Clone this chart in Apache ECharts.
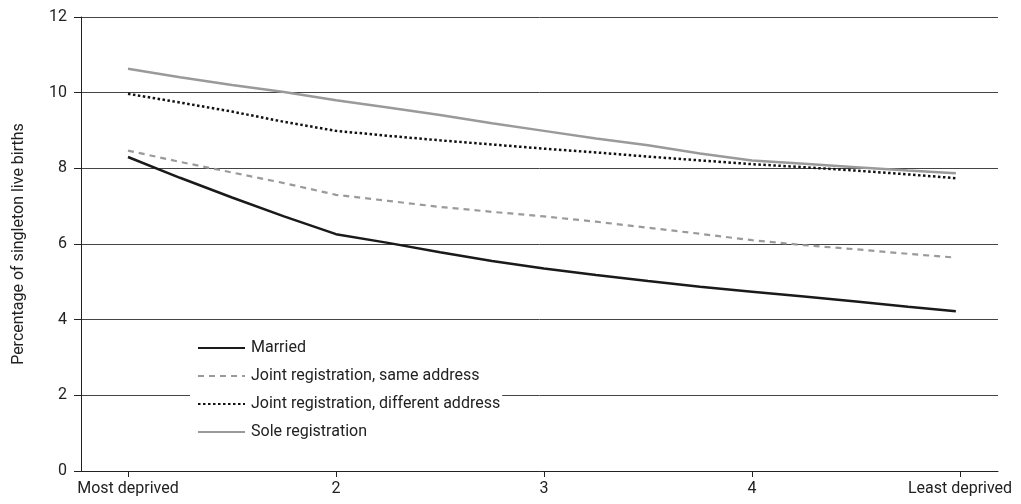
<!DOCTYPE html>
<html>
<head>
<meta charset="utf-8">
<script src="https://cdn.jsdelivr.net/npm/echarts@6/dist/echarts.min.js"></script>
<style>
html,body{margin:0;padding:0;background:#fff;}
#chart{width:1021px;height:504px;}
</style>
</head>
<body>
<div id="chart"></div>
<script>
// Deprivation position (1 = most deprived, 5 = least deprived)
const xPos = [1, 1.25, 1.5, 1.75, 2, 2.25, 2.5, 2.75, 3, 3.25, 3.5, 3.75, 4, 4.25, 4.5, 4.75, 4.98];
const tickValues = [1, 2, 3, 4, 5];
const tickLabels = ['Most deprived', '2', '3', '4', 'Least deprived'];
const yTicks = [0, 2, 4, 6, 8, 10, 12];

const married      = [8.30, 7.75, 7.23, 6.73, 6.26, 6.03, 5.78, 5.55, 5.35, 5.18, 5.02, 4.87, 4.74, 4.61, 4.48, 4.34, 4.22];
const jointSame    = [8.47, 8.17, 7.89, 7.61, 7.30, 7.14, 6.98, 6.85, 6.73, 6.59, 6.43, 6.27, 6.10, 5.97, 5.86, 5.74, 5.64];
const jointDiff    = [9.97, 9.74, 9.50, 9.23, 8.99, 8.86, 8.74, 8.63, 8.52, 8.42, 8.31, 8.21, 8.11, 8.03, 7.94, 7.84, 7.74];
const sole         = [10.63, 10.41, 10.20, 10.02, 9.80, 9.61, 9.41, 9.19, 8.99, 8.79, 8.61, 8.39, 8.21, 8.12, 8.03, 7.94, 7.87];

const seriesNames = ['Married', 'Joint registration, same address', 'Joint registration, different address', 'Sole registration'];

function pairs(arr){ return arr.map((v,i)=>[xPos[i], v]); }

const FONT = 'Roboto';
const TXT = '#222';
const chart = echarts.init(document.getElementById('chart'), null, {renderer:'canvas'});
chart.setOption({
  animation: false,
  backgroundColor: '#fff',
  textStyle: {fontFamily: FONT},
  grid: {left: 81, right: 23, top: 17, bottom: 33, containLabel: false},
  legend: {
    orient: 'vertical',
    left: 190, top: 332,
    backgroundColor: '#fff',
    padding: [8, 2, 8, 7],
    itemWidth: 47, itemHeight: 14, itemGap: 12,
    itemStyle: {opacity: 0},
    textStyle: {fontFamily: FONT, fontSize: 16, color: TXT, padding: [0,0,0,1]},
    data: seriesNames
  },
  xAxis: {
    type: 'value',
    min: 1 - 47/208, max: 5 + 38/208,
    splitLine: {show: false},
    axisLine: {show: true, lineStyle: {color: '#222', width: 1}},
    axisTick: {show: true, length: 6, customValues: tickValues, lineStyle: {color: '#222'}},
    axisLabel: {
      customValues: tickValues, margin: 10,
      fontFamily: FONT, fontSize: 16, color: TXT,
      formatter: v => tickLabels[tickValues.indexOf(Math.round(v))] || ''
    }
  },
  yAxis: {
    type: 'value', min: 0, max: 12, interval: 2,
    name: 'Percentage of singleton live births',
    nameLocation: 'middle', nameGap: 54, nameRotate: 90,
    nameTextStyle: {fontFamily: FONT, fontSize: 16, color: TXT},
    axisLine: {show: true, lineStyle: {color: '#222', width: 1}},
    axisTick: {show: true, length: 7, lineStyle: {color: '#222'}},
    axisLabel: {fontFamily: FONT, fontSize: 16, color: TXT, margin: 14,
      formatter: v => yTicks.indexOf(v) >= 0 ? String(v) : ''},
    splitLine: {show: true, lineStyle: {color: '#444', width: 1}}
  },
  series: [
    {name: seriesNames[0], type: 'line', data: pairs(married), symbol: 'none',
     lineStyle: {color: '#1a1a1a', width: 2.5}, itemStyle: {color: '#1a1a1a'}, z: 4},
    {name: seriesNames[1], type: 'line', data: pairs(jointSame), symbol: 'none',
     lineStyle: {color: '#9a9a9a', width: 2.2, type: [6, 5]}, itemStyle: {color: '#9a9a9a'}, z: 3},
    {name: seriesNames[2], type: 'line', data: pairs(jointDiff), symbol: 'none',
     lineStyle: {color: '#111', width: 2.5, type: [2.5, 2.5]}, itemStyle: {color: '#111'}, z: 5},
    {name: seriesNames[3], type: 'line', data: pairs(sole), symbol: 'none',
     lineStyle: {color: '#9a9a9a', width: 2.5}, itemStyle: {color: '#9a9a9a'}, z: 2}
  ]
});
</script>
</body>
</html>
